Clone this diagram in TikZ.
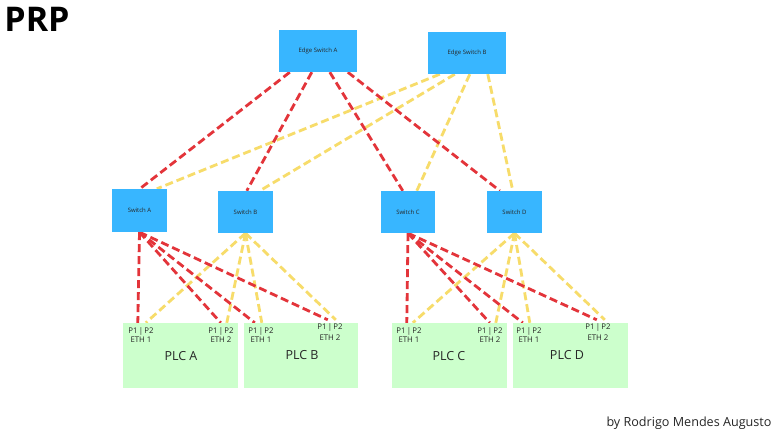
\documentclass[tikz,border=0pt]{standalone}
\usepackage{fontspec}
\setmainfont{Open Sans}
\usetikzlibrary{calc,backgrounds}
\definecolor{swblue}{HTML}{38B6FF}
\definecolor{plcgreen}{HTML}{CCFFCC}
\definecolor{lnred}{HTML}{E3343A}
\definecolor{lnyel}{HTML}{F7DC6A}
\begin{document}
\begin{tikzpicture}[x=1pt,y=-1pt,
 swbox/.style={fill=swblue, draw=none, inner sep=0pt, font=\fontsize{6}{7}\selectfont, text=black!85},
 plcbox/.style={fill=plcgreen, draw=none, inner sep=0pt, minimum height=65pt},
 redl/.style={draw=lnred, line width=2.8pt, dash pattern=on 8pt off 4pt},
 yell/.style={draw=lnyel, line width=2.8pt, dash pattern=on 8pt off 4pt},
 port/.style={font=\fontsize{7.8}{8}\selectfont, inner sep=0pt, text=black!85},
 plclabel/.style={font=\fontsize{12.5}{14}\selectfont, inner sep=0pt, text=black!85}]
\useasboundingbox (0,0) rectangle (780,434);

\node[font=\fontsize{34}{36}\selectfont\bfseries, inner sep=0pt] (title) at (37,19) {PRP};
\node[font=\fontsize{12.6}{14}\selectfont, inner sep=0pt, text=black!85] (author) at (689,423) {by Rodrigo Mendes Augusto};

% switches
\node[swbox, minimum width=78pt, minimum height=42pt] (ESA) at (318,51) {Edge Switch A};
\node[swbox, minimum width=78pt, minimum height=42pt] (ESB) at (467,53) {Edge Switch B};
\node[swbox, minimum width=55pt, minimum height=43pt] (SWA) at (139.5,210.5) {Switch A};
\node[swbox, minimum width=55pt, minimum height=42pt] (SWB) at (245.5,212) {Switch B};
\node[swbox, minimum width=54pt, minimum height=42pt] (SWC) at (408,212) {Switch C};
\node[swbox, minimum width=55pt, minimum height=42pt] (SWD) at (514.5,212) {Switch D};

% PLCs
\node[plcbox, minimum width=115pt] (PLCA) at (180.5,355.5) {};
\node[plcbox, minimum width=114pt] (PLCB) at (301,355.5) {};
\node[plcbox, minimum width=115pt] (PLCC) at (449.5,355.5) {};
\node[plcbox, minimum width=115pt] (PLCD) at (570.5,355.5) {};

\node[plclabel] (lA) at (181,356) {PLC A};
\node[plclabel] (lB) at (302,355) {PLC B};
\node[plclabel] (lC) at (449,356) {PLC C};
\node[plclabel] (lD) at (567,355) {PLC D};

\node[port] (pA1) at (141,331) {P1\,|\,P2};
\node[port] (eA1) at (141,340) {ETH 1};
\node[port] (pA2) at (221,331) {P1\,|\,P2};
\node[port] (eA2) at (221,340) {ETH 2};
\node[port] (pB1) at (261,331) {P1\,|\,P2};
\node[port] (eB1) at (261,340) {ETH 1};
\node[port] (pB2) at (330,327) {P1\,|\,P2};
\node[port] (eB2) at (330,338) {ETH 2};
\node[port] (pC1) at (409,331) {P1\,|\,P2};
\node[port] (eC1) at (409,340) {ETH 1};
\node[port] (pC2) at (490,331) {P1\,|\,P2};
\node[port] (eC2) at (490,340) {ETH 2};
\node[port] (pD1) at (529,331) {P1\,|\,P2};
\node[port] (eD1) at (529,340) {ETH 1};
\node[port] (pD2) at (598,327) {P1\,|\,P2};
\node[port] (eD2) at (598,338) {ETH 2};

\begin{scope}[on background layer]
\fill[white] (0,0) rectangle (780,434);
% yellow: Edge Switch B to access switches
\draw[yell] ($(ESB.south west)+(12,0)$) -- ($(SWA.north west)+(45,0)$);
\draw[yell] ($(ESB.south west)+(27,0)$) -- ($(SWB.north west)+(42,0)$);
\draw[yell] ($(ESB.south west)+(42,0)$) -- ($(SWC.north west)+(36,0)$);
\draw[yell] ($(ESB.south west)+(60,0)$) -- ($(SWD.north west)+(26,0)$);
% yellow: Switch B and D to PLCs
\draw[yell] (SWB.south) -- ($(PLCA.north west)+(23,0)$);
\draw[yell] (SWB.south) -- ($(PLCA.north west)+(104,0)$);
\draw[yell] (SWB.south) -- ($(PLCB.north west)+(18,0)$);
\draw[yell] (SWB.south) -- ($(PLCB.north west)+(92,-3)$);
\draw[yell] (SWD.south) -- ($(PLCC.north west)+(21,0)$);
\draw[yell] (SWD.south) -- ($(PLCC.north west)+(104,0)$);
\draw[yell] (SWD.south) -- ($(PLCD.north west)+(17,0)$);
\draw[yell] (SWD.south) -- ($(PLCD.north west)+(92,-3)$);
% red: Edge Switch A to access switches
\draw[redl] ($(ESA.south west)+(11,0)$) -- ($(SWA.north west)+(28,0)$);
\draw[redl] ($(ESA.south west)+(33,0)$) -- ($(SWB.north west)+(29,0)$);
\draw[redl] ($(ESA.south west)+(51,0)$) -- ($(SWC.north west)+(22,0)$);
\draw[redl] ($(ESA.south west)+(69,0)$) -- ($(SWD.north west)+(13,0)$);
% red: Switch A and C to PLCs
\draw[redl] (SWA.south) -- ($(PLCA.north west)+(15,0)$);
\draw[redl] (SWA.south) -- ($(PLCA.north west)+(98,0)$);
\draw[redl] (SWA.south) -- ($(PLCB.north west)+(11,0)$);
\draw[redl] (SWA.south) -- ($(PLCB.north west)+(84,-3)$);
\draw[redl] (SWC.south) -- ($(PLCC.north west)+(15,0)$);
\draw[redl] (SWC.south) -- ($(PLCC.north west)+(98,0)$);
\draw[redl] (SWC.south) -- ($(PLCD.north west)+(10,0)$);
\draw[redl] (SWC.south) -- ($(PLCD.north west)+(84,-3)$);
\end{scope}
\end{tikzpicture}
\end{document}
